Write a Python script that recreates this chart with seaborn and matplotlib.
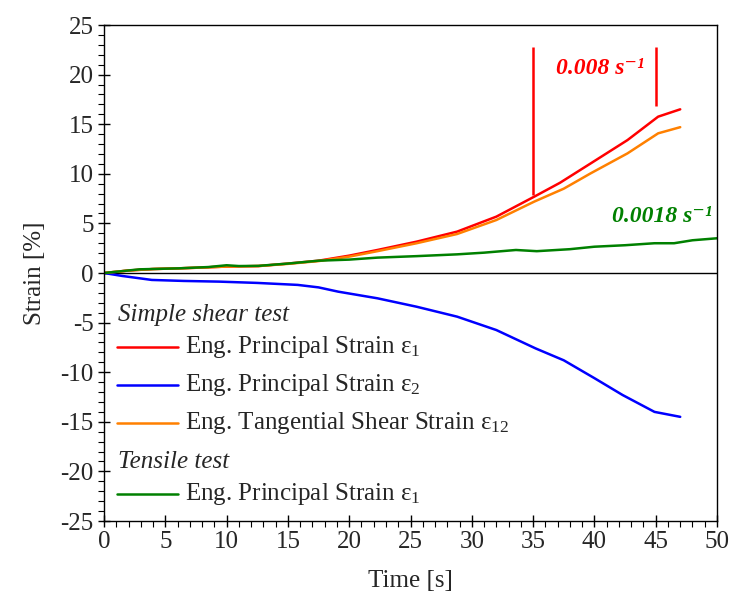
import numpy as np
import pandas as pd
import matplotlib
matplotlib.use("Agg")
import matplotlib.pyplot as plt
from matplotlib.lines import Line2D
import seaborn as sns

# ---- data ----
t_e1 = [0, 2, 4, 6.1, 8, 10, 12.6, 15, 17.5, 20, 22.3, 25.5, 28.8, 32.0, 35.1, 37.2, 39.7, 42.7, 45.2, 47.0]
e1 = [0, 0.25, 0.4, 0.47, 0.55, 0.65, 0.7, 0.95, 1.24, 1.75, 2.32, 3.16, 4.17, 5.68, 7.7, 9.1, 11.05, 13.4, 15.76, 16.5]

t_e2 = [0, 1.5, 3.9, 6.5, 9.4, 12.5, 15.8, 17.5, 19.1, 22.3, 25.5, 28.8, 32.0, 35.2, 37.5, 40.0, 42.3, 44.9, 47.0]
e2 = [0, -0.3, -0.7, -0.8, -0.87, -1.0, -1.2, -1.45, -1.88, -2.55, -3.4, -4.4, -5.75, -7.6, -8.8, -10.6, -12.3, -14.0, -14.5]

t_e12 = [0, 2, 4, 6.1, 8, 10, 12.6, 15, 17.5, 20, 22.3, 25.5, 28.8, 32.0, 35.1, 37.5, 39.7, 42.7, 45.2, 47.0]
e12 = [0, 0.25, 0.4, 0.47, 0.55, 0.65, 0.7, 0.92, 1.2, 1.65, 2.2, 3.0, 3.93, 5.34, 7.2, 8.5, 10.05, 12.06, 14.08, 14.7]

t_ten = [0, 2.9, 6.1, 8.5, 10.0, 11.0, 12.6, 15.0, 17.5, 20.0, 22.3, 25.5, 28.8, 31.0, 33.6, 35.3, 38.0, 40.0, 42.5, 44.9, 46.5, 48.0, 50.0]
e_ten = [0, 0.37, 0.47, 0.6, 0.78, 0.7, 0.72, 0.95, 1.24, 1.35, 1.55, 1.7, 1.88, 2.05, 2.32, 2.2, 2.4, 2.65, 2.8, 3.0, 3.0, 3.3, 3.5]

labels = [r"Eng. Principal Strain ε$_{1}$", r"Eng. Principal Strain ε$_{2}$",
          r"Eng. Tangential Shear Strain ε$_{12}$", r"Eng. Principal Strain ε$_{1}$"]
colors = ["#FF0000", "#0000FF", "#FF8000", "#008000"]
x_ticks = list(range(0, 51, 5))
y_ticks = list(range(-25, 26, 5))

sns.set_style("white")
plt.rcParams["font.family"] = ["Liberation Serif", "DejaVu Serif"]
plt.rcParams["mathtext.fontset"] = "custom"
plt.rcParams["mathtext.rm"] = "Liberation Serif"
plt.rcParams["mathtext.it"] = "Liberation Serif:italic"
plt.rcParams["mathtext.bf"] = "Liberation Serif:bold"
plt.rcParams["axes.unicode_minus"] = False

FS = 18
fig = plt.figure(figsize=(7.31, 6.03), dpi=100)
ax = fig.add_axes([104/731, 1-521/603, 613/731, 496/603])

series = [(t_e1, e1), (t_e2, e2), (t_e12, e12), (t_ten, e_ten)]
for (tx, ty), c in zip(series, colors):
    sns.lineplot(x=tx, y=ty, color=c, lw=1.8, ax=ax, estimator=None, sort=False)

ax.axhline(0, color="black", lw=1.0, zorder=1)
ax.set_xlim(0, 50)
ax.set_ylim(-25, 25)
ax.set_xticks(x_ticks)
ax.set_yticks(y_ticks)
ax.set_xticks(np.arange(0, 51, 1), minor=True)
ax.set_yticks(np.arange(-25, 26, 1), minor=True)
ax.tick_params(axis="both", which="major", direction="inout", length=9, width=1.0,
               labelsize=FS, color="black", pad=3, bottom=True, left=True)
ax.tick_params(axis="both", which="minor", direction="out", length=4, width=0.8,
               color="black", bottom=True, left=True)
for s in ax.spines.values():
    s.set_color("black")
    s.set_linewidth(1.0)
ax.set_xlabel("Time [s]", fontsize=FS, labelpad=12)
ax.set_ylabel("Strain [%]", fontsize=FS, labelpad=10)

# rate annotations
ax.vlines([35, 45], [7.9, 16.8], [22.8, 22.8], color="#FF0000", lw=1.8)
ax.text(40.5, 20.6, "0.008 s⁻¹", color="#FF0000", fontsize=17, fontweight="bold",
        fontstyle="italic", ha="center", va="center")
ax.text(45.5, 5.7, "0.0018 s⁻¹", color="#008000", fontsize=17, fontweight="bold",
        fontstyle="italic", ha="center", va="center")

# custom legend
hx0, hx1, tx_ = 0.0207, 0.1207, 0.1326
ax.text(0.0225, 0.4153, "Simple shear test", transform=ax.transAxes, fontsize=FS,
        fontstyle="italic", va="center", ha="left")
ax.text(0.0225, 0.1196, "Tensile test", transform=ax.transAxes, fontsize=FS,
        fontstyle="italic", va="center", ha="left")
rows = [0.3502, 0.2742, 0.1982, 0.0538]
for yy, lab, c in zip(rows, labels, colors):
    ax.add_line(Line2D([hx0, hx1], [yy, yy], transform=ax.transAxes, color=c, lw=1.8))
    ax.text(tx_, yy, lab, transform=ax.transAxes, fontsize=FS, va="center", ha="left")

fig.savefig("out.png", dpi=100)
